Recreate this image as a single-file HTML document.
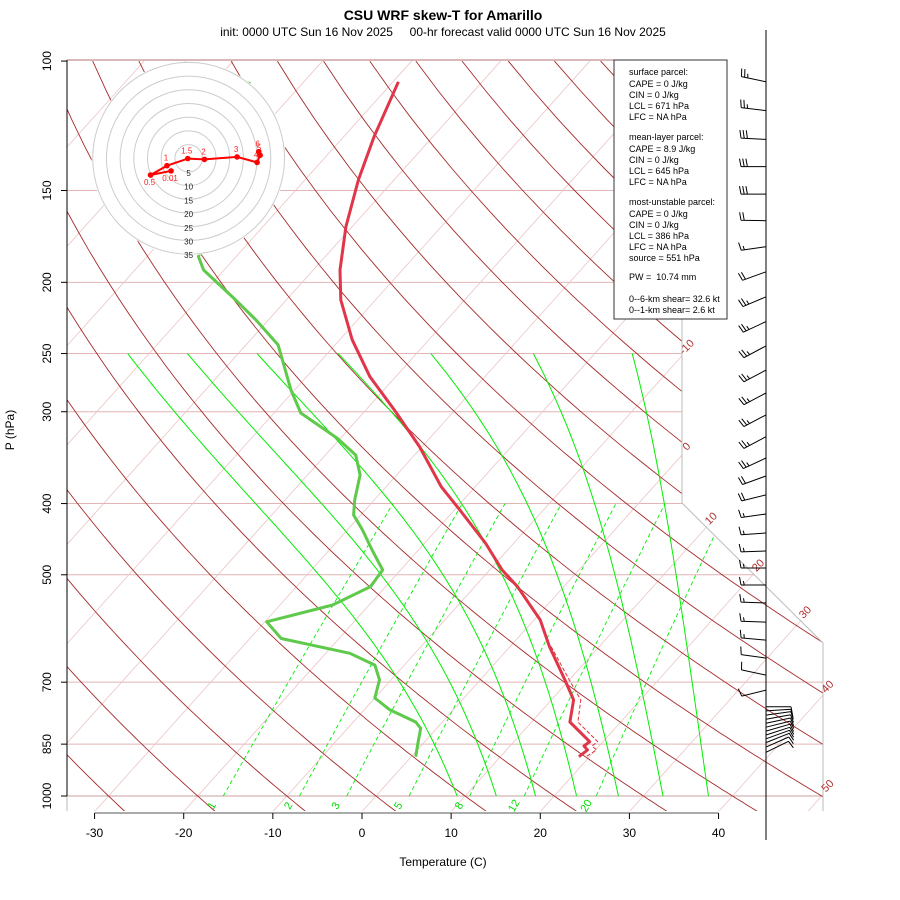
<!DOCTYPE html>
<html><head><meta charset="utf-8"><style>
html,body{margin:0;padding:0;background:#fff;}
svg{display:block;font-family:"Liberation Sans",sans-serif;}
</style></head><body>
<svg id="c" width="900" height="900" viewBox="0 0 900 900" xmlns="http://www.w3.org/2000/svg">
<defs><clipPath id="pc"><polygon points="67,60 682,60 682,503 823,643 823,811 67,811"/></clipPath></defs>
<rect width="900" height="900" fill="#fff"/>
<text x="443" y="20" text-anchor="middle" font-size="14" font-weight="bold">CSU WRF skew-T for Amarillo</text>
<text x="443" y="36" text-anchor="middle" font-size="12" xml:space="preserve" style="white-space:pre">init: 0000 UTC Sun 16 Nov 2025     00-hr forecast valid 0000 UTC Sun 16 Nov 2025</text>
<g id="grid" clip-path="url(#pc)"></g>
<g id="frame"></g>
<g id="prof" clip-path="url(#pc)"></g>
<g id="axes"></g>
<g id="hodo"></g>
<g id="barbs"></g>
<g>
<rect x="614" y="60" width="113" height="259" fill="#fff" stroke="#333" stroke-width="1"/>
<g font-size="9" fill="#000">
<text x="629" y="75">surface parcel:</text>
<text x="629" y="87">CAPE = 0 J/kg</text>
<text x="629" y="98">CIN = 0 J/kg</text>
<text x="629" y="109">LCL = 671 hPa</text>
<text x="629" y="120">LFC = NA hPa</text>
<text x="629" y="140">mean-layer parcel:</text>
<text x="629" y="152">CAPE = 8.9 J/kg</text>
<text x="629" y="163">CIN = 0 J/kg</text>
<text x="629" y="174">LCL = 645 hPa</text>
<text x="629" y="185">LFC = NA hPa</text>
<text x="629" y="205">most-unstable parcel:</text>
<text x="629" y="217">CAPE = 0 J/kg</text>
<text x="629" y="228">CIN = 0 J/kg</text>
<text x="629" y="239">LCL = 386 hPa</text>
<text x="629" y="250">LFC = NA hPa</text>
<text x="629" y="261">source = 551 hPa</text>
<text x="629" y="280" xml:space="preserve" style="white-space:pre">PW =  10.74 mm</text>
<text x="629" y="302">0--6-km shear= 32.6 kt</text>
<text x="629" y="313">0--1-km shear= 2.6 kt</text>
</g></g>
<text x="443" y="866" text-anchor="middle" font-size="12">Temperature (C)</text>
<text x="14" y="430" text-anchor="middle" font-size="12" transform="rotate(-90 14 430)">P (hPa)</text>
</svg>
<script>
// ---- data ----
const tempP = [106.7,126.7,145.1,168.0,192.4,211.3,239.5,268.8,298.4,334.6,379.6,408,452.6,492.5,519,576,626,695,740,793,843.4,855,865.7,884];
const tempT = [-69.4,-66.6,-64.0,-60.7,-57.0,-53.9,-48.6,-42.9,-36.8,-30.3,-23.8,-19.4,-13.2,-8.6,-5.2,0.7,4.4,9.5,12.5,14.3,18.5,18.3,19.1,18.8];
const dewP = [106.7,140.6,184.6,192.4,211.3,225.0,243.3,280.3,301.2,325.8,343.6,365.8,395.5,414.6,434.5,462.7,492.5,519,549.7,579.3,610.4,639.4,663.5,695,735.5,763.5,793,808.9,847.7,884];
const dewT = [-86.1,-80.0,-74.2,-72.3,-65.7,-61.4,-56.4,-50.4,-47.0,-40.4,-36.6,-34.1,-32.2,-30.8,-28.3,-25.2,-22.0,-21.7,-24.1,-29.8,-26.5,-17.3,-13.3,-11.3,-10.0,-7.1,-3.0,-1.8,-0.6,0.5];
const tvP = [626,695,740,793,843.4,855,865.7,884];
const tvT = [4.6,10.0,13.3,15.2,19.4,19.2,20.1,19.6];
const isoT = [-110,-100,-90,-80,-70,-60,-50,-40,-30,-20,-10,0,10,20,30,40,50];
const isoLabels = [-10,0,10,20,30,40,50];
const thetaC = [-40,-30,-20,-10,0,10,20,30,40,50,60,70,80,90,100,110,120,130,140,150,160,170,180];
const mixW = [1,2,3,5,8,12,20];
const moistT1000 = [9.1,13.5,17.9,22.5,27.2,32.2,37.3];
const moistT250 = [-72.4,-65.7,-57.9,-48.8,-38.4,-26.9,-15.8];
const pLevels = [150,200,250,300,400,500,700,850,1000];
const pTicks = [100,150,200,250,300,400,500,700,850,1000];
const tTicks = [-30,-20,-10,0,10,20,30,40];
const hodoU = [-6.4,-13.9,-7.9,-0.3,5.8,17.7,25.0,26.1,25.6];
const hodoV = [-4.6,-6.1,-2.7,-0.1,-0.4,0.5,-1.5,1.1,2.4];
const hodoLab = ["0.01","0.5","1","1.5","2","3","4","5","6"];
const ringKt = [5,10,15,20,25,30,35];
const barbP = [106.7,116.8,127.8,139.2,151.7,164.9,178.9,193.5,209.3,226.2,244.1,263.3,282.9,303,324.4,346.8,366.9,389.3,413.3,438.6,464.1,489.5,516.2,546.2,579.9,613.6,649.2,684.6,717.6,756,766,776,786,796,806,816,826,836,846,858,872];
const barbDir = [282,277,273,270,270,271,262,250,247,245,242,242,242,242,242,245,250,256,262,266,268,270,270,272,272,275,278,282,256,90,86,82,80,78,76,74,72,70,68,66,64,62];
const barbSpd = [25,25,30,30,30,20,15,20,25,25,25,25,25,25,25,25,20,20,15,15,15,15,15,15,15,15,10,10,10,10,10,10,10,10,10,10,10,10,10,10,10,10];

// ---- axis functions ----
const NS='http://www.w3.org/2000/svg';
const yd = p => 132.182 - 44.061*Math.log10(p);
const Y = p => 796 - 16.68*yd(p);
const X = (T,p) => 362 + 8.914*T + 14.97*(yd(p)+0.934);
function mk(tag, attrs, parent){const e=document.createElementNS(NS,tag);for(const k in attrs)e.setAttribute(k,attrs[k]);parent.appendChild(e);return e;}
const grid=document.getElementById('grid'), prof=document.getElementById('prof'), axes=document.getElementById('axes'), frame=document.getElementById('frame'), hodo=document.getElementById('hodo'), barbs=document.getElementById('barbs');
function pathFrom(pts){return pts.map((q,i)=>(i?'L':'M')+q[0].toFixed(1)+' '+q[1].toFixed(1)).join(' ');}
function inside(x,y){ if(x<67||y<60||y>811) return false; if(y<503) return x<=682; if(y<643) return x<=682+(y-503)*(141/140); return x<=823; }

pLevels.forEach(p=>{
  const l=mk('line',{x1:67,x2:830,y1:Y(p),y2:Y(p),stroke:p===1000?'#c8a0a0':'#e2b4b4','stroke-width':1},grid);
  
  
});
const b1050=mk('line',{x1:67,x2:823,y1:Y(1050),y2:Y(1050),stroke:'#c89090','stroke-width':1},grid);


isoT.forEach(T=>{
  const l=mk('line',{x1:X(T,1050),y1:Y(1050),x2:X(T,100),y2:Y(100),stroke:'#ecc4c4','stroke-width':0.8},grid);
  
  
});
thetaC.forEach(th=>{
  const pts=[];for(let p=1050;p>=100;p-=10){const T=(th+273.15)*Math.pow(p/1000,0.2857)-273.15;pts.push([X(T,p),Y(p)]);}
  const l=mk('path',{d:pathFrom(pts),fill:'none',stroke:'#a52a2a','stroke-width':0.9},grid);
  
  
});
function tdFromE(e){const a=Math.log(e/6.112);return 243.5*a/(17.67-a);}
mixW.forEach(w=>{
  const pts=[];for(let p=1000;p>=400;p-=10){const e=w*p/(622+w);pts.push([X(tdFromE(e),p),Y(p)]);}
  const l=mk('path',{d:pathFrom(pts),fill:'none',stroke:'#00ee00','stroke-width':0.9,'stroke-dasharray':'4,3'},grid);
  
  
  const e=w*1030/(622+w);const lx=X(tdFromE(e),1030)-3, ly=Y(1030)+2;
  const t=mk('text',{x:lx,y:ly,'font-size':11,fill:'#00dd00','text-anchor':'middle',transform:`rotate(-60 ${lx} ${ly})`},axes);
  t.textContent=w;
  
  
});
function moistCurve(T0){const pts=[];let T=T0+273.15;for(let p=1000;p>=249.9;p-=5){pts.push([p,T-273.15]);const es=6.112*Math.exp(17.67*(T-273.15)/(T-29.65));const rs=0.622*es/(p-es);const num=(287*T+2.5e6*rs)/p;const den=1004+(2.5e6*2.5e6*rs*0.622)/(287*T*T);T+=num/den*(-5);}return pts;}
moistT1000.forEach((T0,i)=>{
  const c=moistCurve(T0);const err=moistT250[i]-c[c.length-1][1];
  const y0=yd(1000), y1=yd(250);
  const pts=c.map(([p,T])=>{const f=(yd(p)-y0)/(y1-y0);return [X(T+err*f,p),Y(p)];});
  const l=mk('path',{d:pathFrom(pts),fill:'none',stroke:'#00ee00','stroke-width':1},grid);
  
  
});
[[682,60,682,503],[682,503,823,643],[823,643,823,811],[67,60,682,60],[67,60,67,811]].forEach((s,i)=>{
  const l=mk('line',{x1:s[0],y1:s[1],x2:s[2],y2:s[3],stroke:i===3?'#b07070':'#bbbbbb','stroke-width':1},frame);
  
  
});
// isotherm labels: where isotherm leaves the plot on top/right
isoLabels.forEach(T=>{
  let ex=null,ey=null,wasIn=false;
  for(let p=1045;p>=100;p-=0.5){const x=X(T,p),y=Y(p);const ins=inside(x,y);if(ins)wasIn=true;else if(wasIn){ex=x;ey=y;break;}}
  if(ex===null)return;
  const lx=ex+7, ly=ey-6;
  const t=mk('text',{x:lx,y:ly,'font-size':11,fill:'#b03030','text-anchor':'middle',transform:`rotate(-45 ${lx} ${ly})`},axes);
  t.textContent=T;
  
  
});
function prof1(P,T,attrs,name){const pts=P.map((p,i)=>[X(T[i],p),Y(p)]);const l=mk('path',Object.assign({d:pathFrom(pts),fill:'none','stroke-linejoin':'round'},attrs),prof);}
prof1(dewP,dewT,{stroke:'#5ec94a','stroke-width':3},'dewpoint-line');
prof1(tvP,tvT,{stroke:'#e0303a','stroke-width':1,'stroke-dasharray':'4,2'},'virtual-temperature-line');
prof1(tempP,tempT,{stroke:'#e0364a','stroke-width':3},'temperature-line');
const yax=mk('line',{x1:67,y1:60,x2:67,y2:796,stroke:'#000','stroke-width':1},axes);


pTicks.forEach(p=>{
  const y=Y(p);
  const tk=mk('line',{x1:61,x2:67,y1:y,y2:y,stroke:'#000'},axes);
  
  
  const t=mk('text',{x:51,y:y,'font-size':12,'text-anchor':'middle',transform:`rotate(-90 51 ${y})`},axes);
  t.textContent=p;
  
  
});
const xax=mk('line',{x1:X(tTicks[0],1050),x2:X(tTicks[tTicks.length-1],1050),y1:813,y2:813,stroke:'#555','stroke-width':1},axes);


tTicks.forEach(T=>{
  const x=X(T,1050);
  const tk=mk('line',{x1:x,x2:x,y1:813,y2:819,stroke:'#000'},axes);
  
  
  const t=mk('text',{x:x,y:837,'font-size':12,'text-anchor':'middle'},axes);
  t.textContent=T;
  
  
});
const cx=188.6, cy=158.3, k=2.74;
const bg=mk('circle',{cx:cx,cy:cy,r:97,fill:'#fff',stroke:'none'},hodo);


ringKt.forEach(r=>{
  const c=mk('circle',{cx:cx,cy:cy,r:r*k,fill:'none',stroke:'#cccccc','stroke-width':1},hodo);
  
  
});
ringKt.forEach(r=>{
  const t=mk('text',{x:cx,y:cy+r*k+4,'font-size':8,'text-anchor':'middle',fill:'#222'},hodo);
  t.textContent=r;
  
  
});
const hp=hodoU.map((u,i)=>[cx+u*k,cy-hodoV[i]*k]);
const hl=mk('path',{d:pathFrom(hp),fill:'none',stroke:'#ff0000','stroke-width':2},hodo);


hp.forEach((q,i)=>{
  const d=mk('circle',{cx:q[0],cy:q[1],r:2.8,fill:'#ff0000'},hodo);
  
  
  const t=mk('text',{x:q[0]-1,y:q[1]+(i<2?10:-5),'font-size':8,'text-anchor':'middle',fill:'#ff2020'},hodo);
  t.textContent=hodoLab[i];
  
  
});
const bx=766;
const mast=mk('line',{x1:bx,x2:bx,y1:30,y2:840,stroke:'#000','stroke-width':1},barbs);


barbP.forEach((p,i)=>{
  const y=Y(p), d=barbDir[i]*Math.PI/180, L=25;
  const ux=Math.sin(d), uy=-Math.cos(d);
  const rx=-uy, ry=ux;
  const tx=bx+ux*L, ty=y+uy*L;
  let s='M'+bx+' '+y.toFixed(1)+' L'+tx.toFixed(1)+' '+ty.toFixed(1);
  let spd=barbSpd[i], off=0;
  while(spd>=10){const px=tx-ux*off, py=ty-uy*off;s+=' M'+px.toFixed(1)+' '+py.toFixed(1)+' l'+(rx*8+ux*1.5).toFixed(1)+' '+(ry*8+uy*1.5).toFixed(1);off+=3.2;spd-=10;}
  if(spd>=5){const px=tx-ux*off, py=ty-uy*off;s+=' M'+px.toFixed(1)+' '+py.toFixed(1)+' l'+(rx*4+ux*0.8).toFixed(1)+' '+(ry*4+uy*0.8).toFixed(1);}
  const b=mk('path',{d:s,fill:'none',stroke:'#000','stroke-width':1},barbs);
  
  
});
</script>
</body></html>
